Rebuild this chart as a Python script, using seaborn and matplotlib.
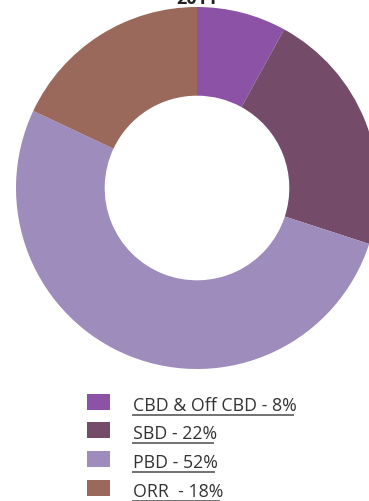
import matplotlib
matplotlib.use("Agg")
import matplotlib.pyplot as plt
from matplotlib.patches import Rectangle
import seaborn as sns

# Office absorption share by micro-market, 2011
title = "2011"
markets = ["CBD & Off CBD", "SBD", "PBD", "ORR"]
shares = [8, 22, 52, 18]
labels = ["CBD & Off CBD - 8%", "SBD - 22%", "PBD - 52%", "ORR  - 18%"]
colors = ["#8c52a6", "#744c6a", "#9e8cbc", "#9a695b"]

sns.set_theme(style="white")
plt.rcParams["font.family"] = ["Open Sans", "DejaVu Sans"]

W, H = 369, 502
fig = plt.figure(figsize=(W / 100, H / 100), dpi=100)
ax = fig.add_axes([0, 0, 1, 1])

cx, cy, r = 197, H - 189, 181
ax.pie(shares, colors=colors, startangle=90, counterclock=False,
       center=(cx, cy), radius=r, frame=True,
       wedgeprops=dict(width=r * 0.49, linewidth=0))
ax.set_xlim(0, W)
ax.set_ylim(0, H)
ax.set_aspect("equal")
ax.axis("off")

ax.text(cx, H - 4, title, ha="center", va="baseline", fontsize=13,
        fontweight="bold", color="#222222")

# legend rows: swatch, label and an underline under each label
row_tops = [395, 423, 452, 481]
fig.canvas.draw()
renderer = fig.canvas.get_renderer()
inv = ax.transData.inverted()
for top, lab, col in zip(row_tops, labels, colors):
    ax.add_patch(Rectangle((87, H - top - 16), 23, 16, color=col, lw=0))
    t = ax.text(133, H - top - 16, lab, ha="left", va="baseline",
                fontsize=12.8, color="#333333")
    bb = t.get_window_extent(renderer)
    x0 = inv.transform((bb.x0, 0))[0]
    x1 = inv.transform((bb.x1, 0))[0]
    y_ul = H - top - 20.5
    ax.plot([x0 - 1, x1 - 3], [y_ul, y_ul], color="#666666", lw=1.3,
            solid_capstyle="butt")

fig.savefig("out.png", dpi=100)
